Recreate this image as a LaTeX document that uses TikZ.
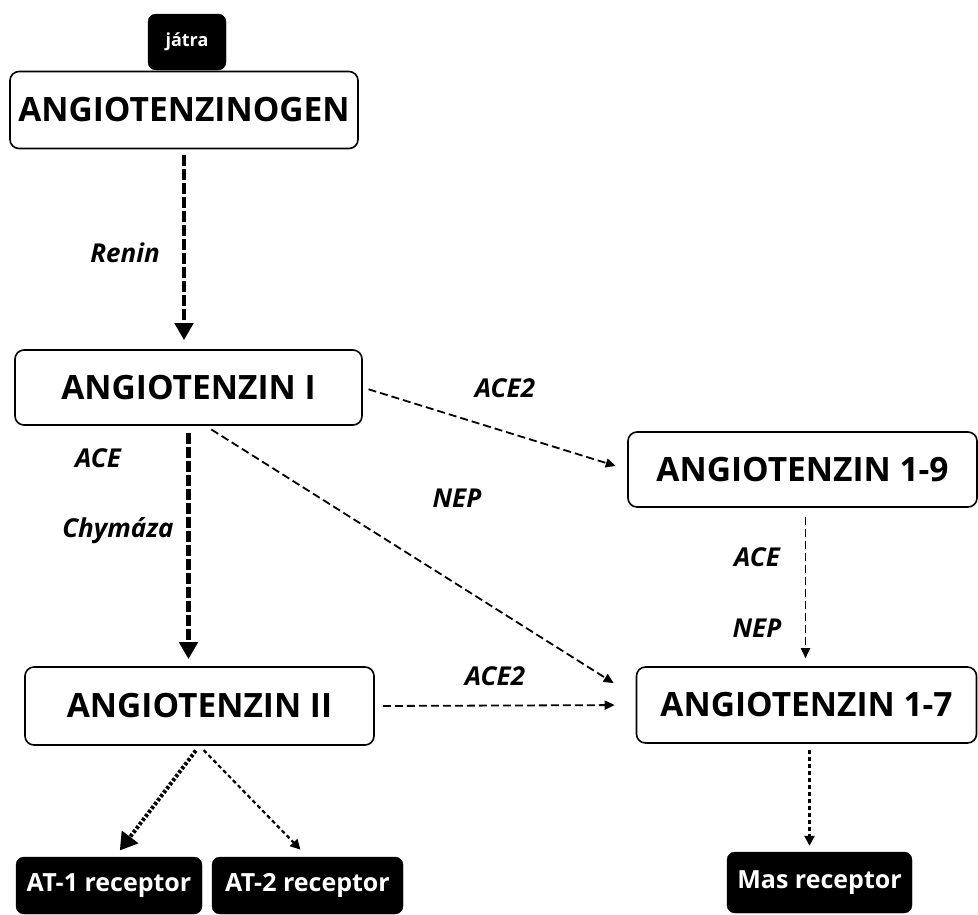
\documentclass[tikz,border=0pt]{standalone}
\usepackage{fontspec}
\setmainfont{Open Sans}
\usepackage{tikz}
\usetikzlibrary{arrows.meta}
\tikzset{
  latka/.style={draw=black,line width=1.6pt,rounded corners=9pt,fill=white,inner sep=0pt,font=\fontsize{33.5}{36}\selectfont\bfseries},
  receptor/.style={draw=black,fill=black,rounded corners=8pt,inner sep=0pt,text=white,font=\fontsize{25}{28}\selectfont\bfseries},
  enzym/.style={font=\fontsize{26}{28}\selectfont\bfseries\itshape},
  silna/.style={line width=4.5pt,dash pattern=on 11pt off 3pt,-{Triangle[width=18pt,length=17pt]}},
  tenka/.style={line width=1.8pt,dash pattern=on 8pt off 4pt,-{Triangle[width=9pt,length=10pt]}},
  tecky/.style={line width=2.2pt,dash pattern=on 4pt off 3pt,-{Triangle[width=10pt,length=10pt]}},
  teckysilna/.style={line width=4pt,dash pattern=on 3pt off 2pt,-{Triangle[width=20pt,length=17pt]}},
}
\begin{document}
\begin{tikzpicture}[x=1pt,y=-1pt]
        \useasboundingbox (0,0) rectangle (978,914);
        % bunky
        \node [receptor,minimum width=78,minimum height=56,font=\fontsize{18}{20}\selectfont\bfseries] (jatra) at (187,42) {játra};
        \node [latka,minimum width=348,minimum height=77] (agt) at (184,110) {ANGIOTENZINOGEN};
        \node [latka,minimum width=347,minimum height=75] (ang1) at (188.5,387.5) {ANGIOTENZIN I};
        \node [latka,minimum width=349,minimum height=75] (ang19) at (802.5,469.5) {ANGIOTENZIN 1-9};
        \node [latka,minimum width=349,minimum height=78] (ang2) at (199.5,706) {ANGIOTENZIN II};
        \node [latka,minimum width=340,minimum height=76] (ang17) at (806.5,705) {ANGIOTENZIN 1-7};
        \node [receptor,minimum width=186,minimum height=57] (at1) at (109,885.5) {AT-1 receptor};
        \node [receptor,minimum width=191,minimum height=57] (at2) at (307.5,885.5) {AT-2 receptor};
        \node [receptor,minimum width=185,minimum height=61] (mas) at (819.5,882.5) {Mas receptor};
        % enzymy
        \node [enzym] (renin) at (125,253) {Renin};
        \node [enzym] (ace2a) at (505,388) {ACE2};
        \node [enzym] (acea) at (98,458) {ACE};
        \node [enzym] (chym) at (118,531) {Chymáza};
        \node [enzym] (nepa) at (457,498) {NEP};
        \node [enzym] (ace2b) at (495,676) {ACE2};
        \node [enzym] (aceb) at (757,557) {ACE};
        \node [enzym] (nepb) at (757,628) {NEP};
        % sipky
        \draw [silna,shorten <=6pt,shorten >=9pt] (agt.south) -- (agt.south |- ang1.north);
        \draw [silna,shorten <=7pt,shorten >=7pt] (ang1.south) -- (ang1.south |- ang2.north);
        \draw [tenka,shorten <=6pt,shorten >=12pt] (ang1.east) -- (ang19.west);
        \draw [tenka,shorten <=7pt,shorten >=26pt] ([xshift=17pt]ang1.south) -- ([yshift=8pt]ang17.west);
        \draw [tenka,shorten <=8pt,shorten >=21pt] (ang2.east) -- (ang17.west);
        \draw [tenka,shorten <=9pt,shorten >=8pt] ([xshift=3pt]ang19.south) -- ([xshift=3pt]ang19.south |- ang17.north);
        \draw [teckysilna,shorten <=6pt,shorten >=8pt] (ang2.south) -- ([xshift=6pt]at1.north);
        \draw [tecky,shorten <=6pt,shorten >=10pt] (ang2.south) -- (at2.north);
        \draw [tecky,shorten <=6pt,shorten >=6pt] ([xshift=3pt]ang17.south) -- ([xshift=3pt]ang17.south |- mas.north);
      \end{tikzpicture}
\end{document}
